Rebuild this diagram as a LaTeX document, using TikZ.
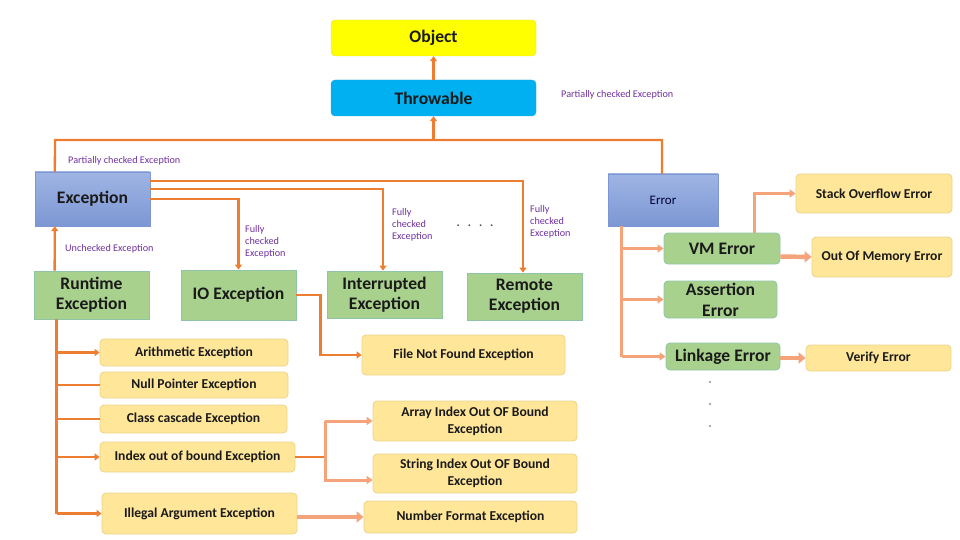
\documentclass[tikz,border=0pt]{standalone}
\usepackage{fontspec}
\setmainfont{Carlito}
\usetikzlibrary{arrows.meta,calc}
\definecolor{orC}{HTML}{ED7D31}
\definecolor{orL}{HTML}{F4A37A}
\definecolor{purp}{HTML}{7030A0}
\definecolor{yelO}{HTML}{FFFF00}
\definecolor{yelOD}{HTML}{E6E24A}
\definecolor{cyanT}{HTML}{00B0F0}
\definecolor{cyanTD}{HTML}{2AA4D8}
\definecolor{blueE}{HTML}{8EA7DE}
\definecolor{blueED}{HTML}{7C97D4}
\definecolor{grnF}{HTML}{A9D18E}
\definecolor{grnD}{HTML}{8FC4A8}
\definecolor{ylF}{HTML}{FFE699}
\definecolor{ylD}{HTML}{E9D48A}
\definecolor{txt}{HTML}{1A1A1A}
\tikzset{
  box/.style={inner sep=0pt, align=center, text=txt},
  bigtxt/.style={font=\bfseries\fontsize{17.6}{20}\selectfont},
  smtxt/.style={font=\bfseries\fontsize{13.6}{17}\selectfont},
  objbox/.style={box, bigtxt, fill=yelO, draw=yelOD, rounded corners=4pt},
  thrbox/.style={box, bigtxt, fill=cyanT, draw=cyanTD, rounded corners=4pt},
  bluebox/.style={box, top color=blueE!85!white, bottom color=blueED, draw=blueED},
  grnbox/.style={box, bigtxt, fill=grnF, draw=grnD, line width=0.8pt},
  grnrbox/.style={box, bigtxt, fill=grnF, draw=grnD, line width=0.8pt, rounded corners=4pt},
  ylbox/.style={box, smtxt, fill=ylF, draw=ylD, line width=0.8pt, rounded corners=4pt},
  conn/.style={draw=orC, line width=2.3pt},
  tip/.style={-{Triangle[length=5pt,width=7pt]}},
  fat/.style={draw=orL, line width=4.5pt, -{Triangle[length=7pt,width=11pt]}},
  mid/.style={draw=orL, line width=3pt},
  midtip/.style={-{Triangle[length=6pt,width=8pt]}},
  lbl/.style={text=purp, font=\fontsize{10.2}{12}\selectfont, inner sep=0pt, align=left}
}
\begin{document}
\begin{tikzpicture}[x=1pt,y=-1pt]
\useasboundingbox (0,0) rectangle (960,540);
% main nodes
\node[objbox, minimum width=205pt, minimum height=36pt] (obj) at (433.5,38) {Object};
\node[thrbox, minimum width=205pt, minimum height=36pt] (thr) at (433.5,98) {Throwable};
\node[bluebox, bigtxt, minimum width=115pt, minimum height=54pt] (exc) at (92.5,199) {Exception};
\node[bluebox, font=\fontsize{13}{15}\selectfont, text=black!80!blue, minimum width=110pt, minimum height=52pt] (err) at (663,200) {Error};
\node[grnbox, minimum width=115pt, minimum height=48pt] (rt) at (91.5,295) {Runtime\\Exception};
\node[grnbox, minimum width=115pt, minimum height=50pt] (io) at (238.5,295) {IO Exception};
\node[grnbox, minimum width=115pt, minimum height=47pt] (intr) at (384.5,294.5) {Interrupted\\Exception};
\node[grnbox, minimum width=115pt, minimum height=47pt] (rem) at (524.5,296.5) {Remote\\Exception};
\node[grnrbox, minimum width=116pt, minimum height=31pt] (vm) at (722,248.5) {VM Error};
\node[grnrbox, minimum width=113pt, minimum height=37pt, font=\bfseries\fontsize{17.6}{21}\selectfont] (ass) at (720.5,299.5) {Assertion\\Error};
\node[grnrbox, minimum width=114pt, minimum height=27pt] (lnk) at (723,356.5) {Linkage Error};
% yellow nodes
\node[ylbox, minimum width=156pt, minimum height=39pt] (so) at (874,193.5) {Stack Overflow Error};
\node[ylbox, minimum width=140pt, minimum height=40pt] (oom) at (882,257) {Out Of Memory Error};
\node[ylbox, minimum width=145pt, minimum height=26pt] (ver) at (878.5,358) {Verify Error};
\node[ylbox, minimum width=188pt, minimum height=27pt] (ari) at (194,352.5) {Arithmetic Exception};
\node[ylbox, minimum width=188pt, minimum height=26pt] (nul) at (194,385) {Null Pointer Exception};
\node[ylbox, minimum width=187pt, minimum height=28pt] (cls) at (193.5,419) {Class cascade Exception};
\node[ylbox, minimum width=195pt, minimum height=30pt] (idx) at (197.5,457) {Index out of bound Exception};
\node[ylbox, minimum width=195pt, minimum height=41pt] (ill) at (199.5,513.5) {Illegal Argument Exception};
\node[ylbox, minimum width=203pt, minimum height=40pt] (fnf) at (463.5,355) {File Not Found Exception};
\node[ylbox, minimum width=204pt, minimum height=40pt] (arr) at (475,421) {Array Index Out OF Bound\\Exception};
\node[ylbox, minimum width=204pt, minimum height=39pt] (str) at (475,473.5) {String Index Out OF Bound\\Exception};
\node[ylbox, minimum width=213pt, minimum height=32pt] (num) at (470.5,517) {Number Format Exception};
% labels
\node[lbl, anchor=west] (l1) at (561,95) {Partially checked Exception};
\node[lbl, anchor=west] (l2) at (68,161) {Partially checked Exception};
\node[lbl, anchor=west] (l3) at (65,249) {Unchecked Exception};
\node[lbl, anchor=west] (l4) at (245,242) {Fully\\checked\\Exception};
\node[lbl, anchor=west] (l5) at (392,225) {Fully\\checked\\Exception};
\node[lbl, anchor=west] (l6) at (530,222) {Fully\\checked\\Exception};
\node[text=black!70, font=\bfseries\fontsize{12}{14}\selectfont, inner sep=0pt] (dots) at (475,226) {.\hspace{8pt}.\hspace{8pt}.\hspace{8pt}.};
\foreach \yy/\nm in {382/v1,404/v2,426/v3}
  \node[circle, fill=black!45, inner sep=0pt, minimum size=2.2pt] (\nm) at (710,\yy) {};
% connectors
\draw[conn, tip] (thr.north) -- (obj.south);
\coordinate (jl) at (55,140);
\coordinate (jr) at (662,140);
\draw[conn] ([xshift=20pt]exc.north west) -- (jl) -- (jr) -- (err.north -| jr);
\draw[conn, tip] (thr.south |- jl) -- (thr.south);
\draw[conn, tip] ([yshift=18pt]exc.east) -| ([xshift=-1.5pt]rem.north);
\draw[conn, tip] ([yshift=10pt]exc.east) -| ([xshift=-1.5pt]intr.north);
\draw[conn, tip] (exc.east) -| (io.north);
\draw[conn, tip] ([xshift=21pt]rt.north west) -- ([xshift=20pt]exc.south west);
% runtime trunk
\coordinate (rtt) at ([xshift=23pt]rt.south west);
\draw[conn] (rtt) -- (rtt |- ill.west);
\draw[conn, tip] (rtt |- ari.west) -- (ari.west);
\draw[conn] (rtt |- nul.west) -- (nul.west);
\draw[conn] (rtt |- cls.west) -- (cls.west);
\draw[conn, tip] (rtt |- idx.west) -- (idx.west);
\draw[conn, tip] (rtt |- ill.west) -- (ill.west);
% index branches
\coordinate (ij) at (325,457);
\draw[conn] (idx.east) -- (ij);
\draw[mid] (ij |- arr.west) -- (ij |- 0,482);
\draw[mid, midtip] (ij |- arr.west) -- (arr.west);
\draw[mid, midtip] (ij |- 0,480) -- ([yshift=-6.5pt]str.west);
\draw[fat] (ill.east |- num.west) -- (num.west);
% IO to FNF
\draw[conn, tip] (io.east) -- ++(24,0) |- (fnf.west);
% Error trunk
\coordinate (et) at ([xshift=14pt]err.south west);
\draw[mid] (et) -- (et |- lnk.west);
\draw[mid, midtip] (et |- vm.west) -- (vm.west);
\draw[mid, midtip] (et |- ass.west) -- (ass.west);
\draw[mid, midtip] (et |- lnk.west) -- (lnk.west);
\draw[mid, midtip] ([xshift=32pt]vm.north) |- (so.west);
\draw[fat] ([yshift=-8pt]vm.east) -- (oom.west);
\draw[fat] (lnk.east |- ver.west) -- (ver.west);
\end{tikzpicture}
\end{document}
